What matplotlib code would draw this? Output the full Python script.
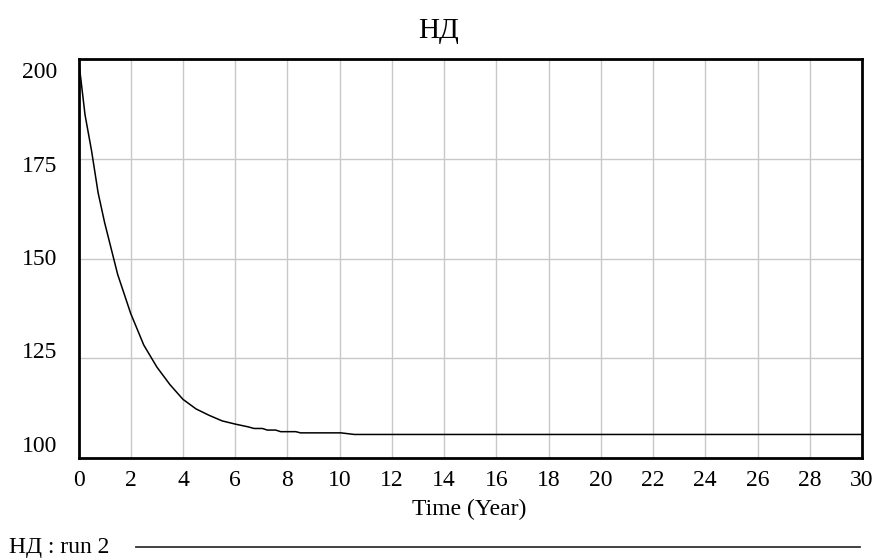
import matplotlib
matplotlib.use("Agg")
import matplotlib.pyplot as plt

# Simulated trajectory of НД over time (run 2)
time_years = [0, 0.25, 0.5, 0.75, 1.0, 1.5, 2.0, 2.5, 3.0, 3.5, 4.0, 4.5, 5.0,
              5.5, 6.0, 6.5, 6.72, 7.04, 7.23, 7.55, 7.74, 8.32, 8.5, 10.05,
              10.56, 30.0]
nd_values = [200.0, 186.0, 177.0, 166.5, 159.0, 146.0, 136.2, 128.3, 122.8,
             118.4, 114.7, 112.3, 110.7, 109.3, 108.5, 107.8, 107.4, 107.4,
             107.0, 107.0, 106.6, 106.6, 106.3, 106.3, 105.9, 105.9]

x_ticks = list(range(0, 31, 2))
y_ticks = [100, 125, 150, 175, 200]

title_text = "НД"
x_label = "Time (Year)"
legend_label = "НД : run 2"

plt.rcParams["font.family"] = ["Liberation Serif", "DejaVu Serif"]

W, H = 877, 560
fig = plt.figure(figsize=(W / 100, H / 100), dpi=100)
left_px, right_px, top_px, bottom_px = 78.5, 862, 59, 458
ax = fig.add_axes([left_px / W, 1 - bottom_px / H,
                   (right_px - left_px) / W, (bottom_px - top_px) / H])

ax.set_xlim(0, 30)
ax.set_ylim(100, 200)
ax.set_xticks(x_ticks)
ax.set_yticks(y_ticks)
ax.grid(True, color="#c8c8c8", linewidth=1.0)
ax.set_axisbelow(True)
ax.tick_params(axis="x", length=0, labelsize=17, pad=9)
ax.tick_params(axis="y", length=0, labelleft=False)
for s in ax.spines.values():
    s.set_linewidth(2.0)
    s.set_color("black")

ax.plot(time_years, nd_values, color="black", linewidth=1.1)

# y labels sit slightly inside the frame at top and bottom
for v in y_ticks:
    ypos = 103 + (v - 100) * 0.935
    ax.text(-0.027, (ypos - 100) / 100, str(v), transform=ax.transAxes,
            ha="right", va="center", fontsize=17)

fig.text(0.5, 1 - 38.5 / H, title_text, ha="center", va="baseline",
         fontsize=21)
fig.text(469 / W, 1 - 515 / H, x_label, ha="center", va="baseline",
         fontsize=17)

# legend row at the bottom of the figure
fig.text(9 / W, 1 - 553.5 / H, legend_label, ha="left", va="baseline",
         fontsize=17)
fig.add_artist(plt.Line2D([136 / W, 860 / W], [1 - 547 / H, 1 - 547 / H],
                          transform=fig.transFigure, color="#333333",
                          linewidth=1.3))

fig.savefig("out.png", dpi=100)
